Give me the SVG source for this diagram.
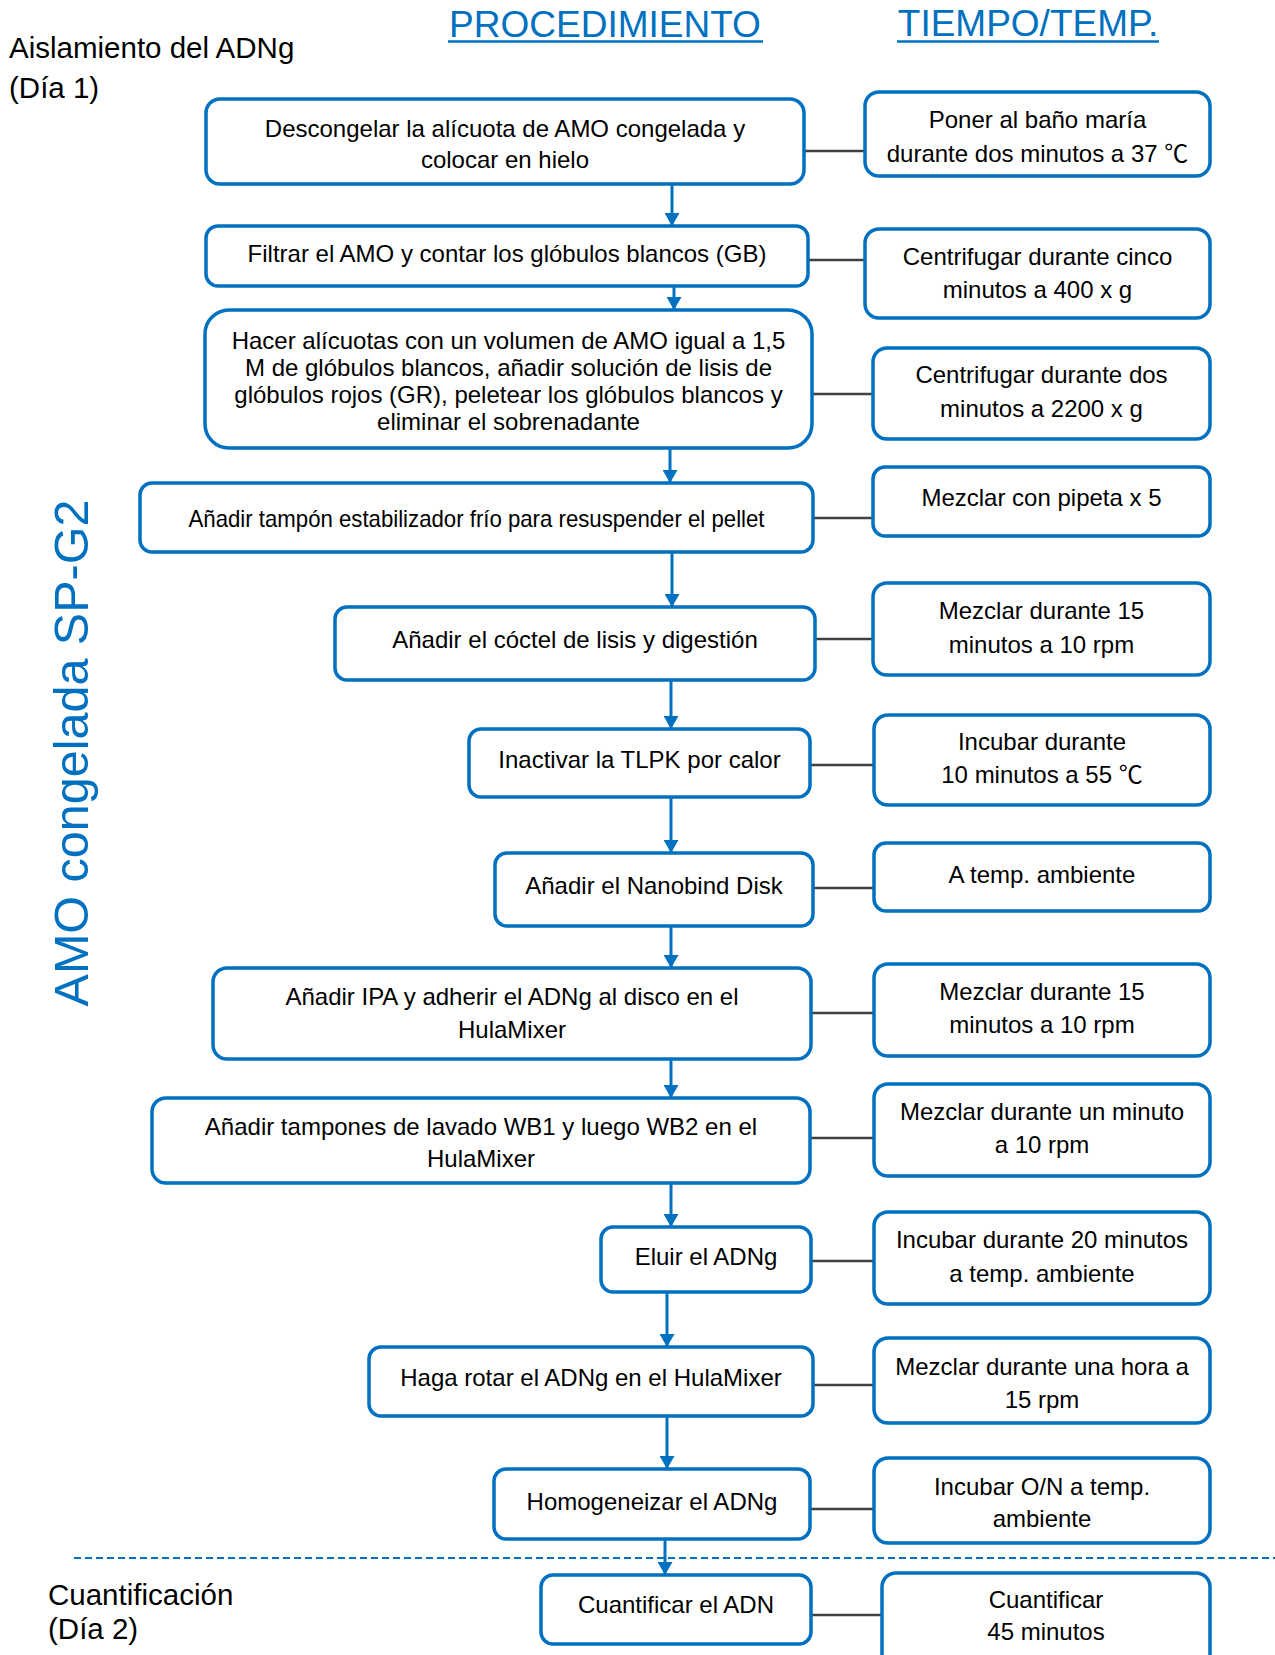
<svg xmlns="http://www.w3.org/2000/svg" width="1275" height="1655" viewBox="0 0 1275 1655">
<defs>
<style>
.bx{fill:#fff;stroke:#0070C0;stroke-width:3.5}
.t{font-family:"Liberation Sans",Arial,"Noto Sans CJK SC",sans-serif;font-size:24px;fill:#000;text-anchor:middle}
.side{font-family:"Liberation Sans",Arial,sans-serif;font-size:29.5px;fill:#000}
.hd{font-family:"Liberation Sans",Arial,sans-serif;font-size:37px;fill:#0070C0;text-anchor:middle}
.arr{stroke:#0070C0;stroke-width:3;fill:none;marker-end:url(#ah)}
.con{stroke:#404040;stroke-width:2.5;fill:none}
</style>
<marker id="ah" viewBox="0 0 13 15" refX="13" refY="7.5" markerUnits="userSpaceOnUse" markerWidth="13" markerHeight="15" orient="auto">
<path d="M0,0 L13,7.5 L0,15 z" fill="#0070C0"/>
</marker>
</defs>
<rect width="1275" height="1655" fill="#fff"/>

<g id="headers">
<text class="hd" x="605" y="37">PROCEDIMIENTO</text>
<line x1="448" y1="41.5" x2="763" y2="41.5" stroke="#0070C0" stroke-width="2.5"/>
<text class="hd" x="1028" y="36">TIEMPO/TEMP.</text>
<line x1="897" y1="41.5" x2="1159" y2="41.5" stroke="#0070C0" stroke-width="2.5"/>
</g>

<g id="labels">
<text class="side" x="9" y="58">Aislamiento del ADNg</text>
<text class="side" x="9" y="98">(Día 1)</text>
<text class="side" x="48" y="1605">Cuantificación</text>
<text class="side" x="48" y="1639">(Día 2)</text>
<text font-family="Liberation Sans, Arial, sans-serif" font-size="48.5" fill="#0070C0" text-anchor="middle" transform="translate(88,753) rotate(-90)">AMO congelada SP-G2</text>
<line x1="74" y1="1558" x2="1275" y2="1558" stroke="#0070C0" stroke-width="2" stroke-dasharray="7,4"/>
</g>

<g id="connectors">
<line class="arr" x1="672" y1="184" x2="672" y2="226"/>
<line class="arr" x1="674" y1="286" x2="674" y2="310"/>
<line class="arr" x1="670" y1="448" x2="670" y2="483"/>
<line class="arr" x1="672" y1="552" x2="672" y2="607"/>
<line class="arr" x1="671" y1="680" x2="671" y2="729"/>
<line class="arr" x1="671" y1="797" x2="671" y2="853"/>
<line class="arr" x1="671" y1="926" x2="671" y2="968"/>
<line class="arr" x1="671" y1="1057" x2="671" y2="1098"/>
<line class="arr" x1="671" y1="1183" x2="671" y2="1227"/>
<line class="arr" x1="667" y1="1292" x2="667" y2="1347"/>
<line class="arr" x1="667" y1="1416" x2="667" y2="1469"/>
<line class="arr" x1="665" y1="1539" x2="665" y2="1575"/>
<line class="con" x1="804" y1="151" x2="865" y2="151"/>
<line class="con" x1="808" y1="260" x2="865" y2="260"/>
<line class="con" x1="812" y1="394" x2="873" y2="394"/>
<line class="con" x1="813" y1="518" x2="873" y2="518"/>
<line class="con" x1="815" y1="639" x2="873" y2="639"/>
<line class="con" x1="810" y1="765" x2="874" y2="765"/>
<line class="con" x1="813" y1="888" x2="874" y2="888"/>
<line class="con" x1="811" y1="1013" x2="874" y2="1013"/>
<line class="con" x1="810" y1="1138" x2="874" y2="1138"/>
<line class="con" x1="811" y1="1261" x2="874" y2="1261"/>
<line class="con" x1="813" y1="1385" x2="874" y2="1385"/>
<line class="con" x1="810" y1="1509" x2="874" y2="1509"/>
<line class="con" x1="811" y1="1615" x2="882" y2="1615"/>
</g>

<g id="p1"><rect class="bx" x="206" y="99" width="598" height="85" rx="14"/>
<text class="t" x="505" y="137">Descongelar la alícuota de AMO congelada y</text>
<text class="t" x="505" y="168">colocar en hielo</text></g>
<g id="p2"><rect class="bx" x="206" y="226" width="602" height="60" rx="12"/>
<text class="t" x="507" y="262">Filtrar el AMO y contar los glóbulos blancos (GB)</text></g>
<g id="p3"><rect class="bx" x="205" y="310" width="607" height="138" rx="24"/>
<text class="t" x="508.5" y="349">Hacer alícuotas con un volumen de AMO igual a 1,5</text>
<text class="t" x="508.5" y="376">M de glóbulos blancos, añadir solución de lisis de</text>
<text class="t" x="508.5" y="403">glóbulos rojos (GR), peletear los glóbulos blancos y</text>
<text class="t" x="508.5" y="430">eliminar el sobrenadante</text></g>
<g id="p4"><rect class="bx" x="140" y="483" width="673" height="69" rx="12"/>
<text class="t" x="476.5" y="527" textLength="576" lengthAdjust="spacingAndGlyphs">Añadir tampón estabilizador frío para resuspender el pellet</text></g>
<g id="p5"><rect class="bx" x="335" y="607" width="480" height="73" rx="12"/>
<text class="t" x="575" y="648">Añadir el cóctel de lisis y digestión</text></g>
<g id="p6"><rect class="bx" x="469" y="729" width="341" height="68" rx="12"/>
<text class="t" x="639.5" y="768">Inactivar la TLPK por calor</text></g>
<g id="p7"><rect class="bx" x="495" y="853" width="318" height="73" rx="12"/>
<text class="t" x="654" y="894">Añadir el Nanobind Disk</text></g>
<g id="p8"><rect class="bx" x="213" y="968" width="598" height="91" rx="14"/>
<text class="t" x="512" y="1005">Añadir IPA y adherir el ADNg al disco en el</text>
<text class="t" x="512" y="1038">HulaMixer</text></g>
<g id="p9"><rect class="bx" x="152" y="1098" width="658" height="85" rx="14"/>
<text class="t" x="481" y="1135">Añadir tampones de lavado WB1 y luego WB2 en el</text>
<text class="t" x="481" y="1167">HulaMixer</text></g>
<g id="p10"><rect class="bx" x="601" y="1227" width="210" height="65" rx="12"/>
<text class="t" x="706" y="1265">Eluir el ADNg</text></g>
<g id="p11"><rect class="bx" x="369" y="1347" width="444" height="69" rx="12"/>
<text class="t" x="591" y="1386">Haga rotar el ADNg en el HulaMixer</text></g>
<g id="p12"><rect class="bx" x="494" y="1469" width="316" height="70" rx="12"/>
<text class="t" x="652" y="1510">Homogeneizar el ADNg</text></g>
<g id="p13"><rect class="bx" x="541" y="1575" width="270" height="69" rx="12"/>
<text class="t" x="676" y="1613">Cuantificar el ADN</text></g>

<g id="t1"><rect class="bx" x="865" y="92" width="345" height="84" rx="14"/>
<text class="t" x="1037.5" y="128">Poner al baño maría</text>
<text class="t" x="1037.5" y="162">durante dos minutos a 37 ℃</text></g>
<g id="t2"><rect class="bx" x="865" y="229" width="345" height="89" rx="14"/>
<text class="t" x="1037.5" y="265">Centrifugar durante cinco</text>
<text class="t" x="1037.5" y="298">minutos a 400 x g</text></g>
<g id="t3"><rect class="bx" x="873" y="348" width="337" height="91" rx="14"/>
<text class="t" x="1041.5" y="383">Centrifugar durante dos</text>
<text class="t" x="1041.5" y="417">minutos a 2200 x g</text></g>
<g id="t4"><rect class="bx" x="873" y="467" width="337" height="69" rx="12"/>
<text class="t" x="1041.5" y="506">Mezclar con pipeta x 5</text></g>
<g id="t5"><rect class="bx" x="873" y="583" width="337" height="92" rx="14"/>
<text class="t" x="1041.5" y="619">Mezclar durante 15</text>
<text class="t" x="1041.5" y="653">minutos a 10 rpm</text></g>
<g id="t6"><rect class="bx" x="874" y="715" width="336" height="90" rx="14"/>
<text class="t" x="1042" y="750">Incubar durante</text>
<text class="t" x="1042" y="783">10 minutos a 55 ℃</text></g>
<g id="t7"><rect class="bx" x="874" y="843" width="336" height="68" rx="12"/>
<text class="t" x="1042" y="883">A temp. ambiente</text></g>
<g id="t8"><rect class="bx" x="874" y="964" width="336" height="92" rx="14"/>
<text class="t" x="1042" y="1000">Mezclar durante 15</text>
<text class="t" x="1042" y="1033">minutos a 10 rpm</text></g>
<g id="t9"><rect class="bx" x="874" y="1084" width="336" height="92" rx="14"/>
<text class="t" x="1042" y="1120">Mezclar durante un minuto</text>
<text class="t" x="1042" y="1153">a 10 rpm</text></g>
<g id="t10"><rect class="bx" x="874" y="1212" width="336" height="92" rx="14"/>
<text class="t" x="1042" y="1248">Incubar durante 20 minutos</text>
<text class="t" x="1042" y="1282">a temp. ambiente</text></g>
<g id="t11"><rect class="bx" x="874" y="1338" width="336" height="85" rx="14"/>
<text class="t" x="1042" y="1375">Mezclar durante una hora a</text>
<text class="t" x="1042" y="1408">15 rpm</text></g>
<g id="t12"><rect class="bx" x="874" y="1458" width="336" height="85" rx="14"/>
<text class="t" x="1042" y="1495">Incubar O/N a temp.</text>
<text class="t" x="1042" y="1527">ambiente</text></g>
<g id="t13"><rect class="bx" x="882" y="1573" width="328" height="95" rx="14"/>
<text class="t" x="1046" y="1608">Cuantificar</text>
<text class="t" x="1046" y="1640">45 minutos</text></g>
</svg>
